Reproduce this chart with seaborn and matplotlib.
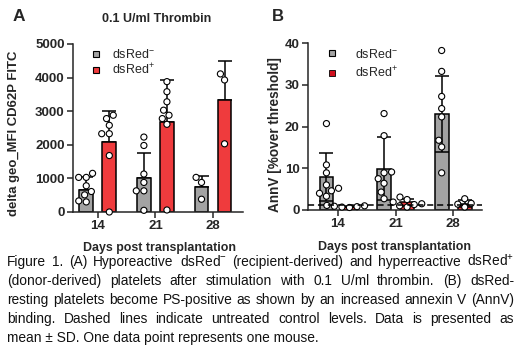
import matplotlib
matplotlib.use("Agg")
import matplotlib.pyplot as plt
import pandas as pd
import seaborn as sns
from matplotlib.lines import Line2D

days = ["14", "21", "28"]
groups = ["dsRed$^{-}$", "dsRed$^{+}$"]

# panel A: delta geo_MFI CD62P FITC (bar = mean, whisker = SD)
a_mean_neg = [650, 1010, 730]
a_sd_neg = [400, 750, 350]
a_mean_pos = [2070, 2680, 3340]
a_sd_pos = [940, 1250, 1160]
a_pts_neg = [[1150, 1030, 1030, 780, 610, 510, 330, 300],
             [2230, 1980, 1130, 880, 630, 630, 50],
             [1030, 880, 380]]
a_pts_pos = [[2880, 2780, 2580, 2330, 2330, 1680, 0],
             [3880, 3580, 3280, 3030, 2880, 2780, 2610, 60],
             [4110, 3930, 2030]]

# panel B: AnnV [% over threshold]
b_mean_neg = [7.9, 9.9, 23.1]
b_sd_neg = [5.8, 7.6, 9.1]
b_mean_pos = [0.8, 1.8, 1.5]
b_sd_pos = [0.2, 0.9, 0.8]
b_pts_neg = [[20.7, 10.8, 8.9, 6.0, 5.2, 4.6, 4.0, 3.3],
             [23.1, 17.8, 9.1, 8.9, 7.5, 6.4, 4.3, 2.7],
             [38.2, 33.2, 27.2, 24.3, 22.3, 16.7, 15.1, 8.9]]
b_pts_pos = [[1.1, 1.0, 0.9, 0.8, 0.7, 0.6],
             [3.1, 2.5, 1.9, 1.5, 1.3, 1.0, 0.7],
             [2.7, 1.6, 1.4, 0.7]]
b_control = 1.1

caption_lines = [
    "Figure 1. (A) Hyporeactive dsRed$^{-}$ (recipient-derived) and hyperreactive dsRed$^{+}$",
    "(donor-derived) platelets after stimulation with 0.1 U/ml thrombin. (B) dsRed-",
    "resting platelets become PS-positive as shown by an increased annexin V (AnnV)",
    "binding. Dashed lines indicate untreated control levels. Data is presented as",
    "mean ± SD. One data point represents one mouse.",
]

GRAY = "#a3a3a3"
RED = "#ef3b3d"
W, H = 520, 357

sns.set_style("ticks")
plt.rcParams["font.family"] = ["Liberation Sans", "DejaVu Sans"]
plt.rcParams["mathtext.fontset"] = "custom"
plt.rcParams["mathtext.rm"] = "Liberation Sans"
plt.rcParams["mathtext.bf"] = "Liberation Sans:bold"
plt.rcParams["mathtext.it"] = "Liberation Sans:italic"
plt.rcParams["axes.linewidth"] = 1.1

fig = plt.figure(figsize=(W / 100, H / 100), dpi=100)
renderer = fig.canvas.get_renderer()


def size_for(s, target_px, weight="normal"):
    # font size that makes string s about target_px wide
    t = fig.text(0, 0, s, fontsize=10, fontweight=weight)
    w = t.get_window_extent(renderer).width
    t.remove()
    return 10 * target_px / w


TICK_FS = size_for("5000", 29.5, "bold")
XLAB_FS = size_for("Days post transplantation", 152, "bold")
LEG_FS = size_for("dsRed", 36)
CAP_FS = size_for(caption_lines[-1], 313)


def bars_df(mneg, sneg, mpos, spos):
    rows = []
    for i, d in enumerate(days):
        rows.append((d, groups[0], mneg[i], sneg[i]))
        rows.append((d, groups[1], mpos[i], spos[i]))
    return pd.DataFrame(rows, columns=["day", "group", "mean", "sd"])


def pts_df(pneg, ppos):
    rows = []
    for i, d in enumerate(days):
        rows += [(d, groups[0], v) for v in pneg[i]]
        rows += [(d, groups[1], v) for v in ppos[i]]
    return pd.DataFrame(rows, columns=["day", "group", "value"])


def panel(ax, bars, pts, ymax, yticks, err_front, xlim):
    sns.barplot(data=bars, x="day", y="mean", hue="group", order=days,
                hue_order=groups, palette=[GRAY, RED], width=0.8, gap=0.4,
                errorbar=None, edgecolor="black", linewidth=1.1, saturation=1,
                legend=False, ax=ax, zorder=2)
    for k, g in enumerate(groups):
        sub = bars[bars["group"] == g]
        xs = [days.index(d) + (-0.2 if k == 0 else 0.2) for d in sub["day"]]
        if err_front:
            yerr = sub["sd"]
        else:
            yerr = [[0] * len(sub), list(sub["sd"])]
        ax.errorbar(xs, sub["mean"], yerr=yerr, fmt="none", ecolor="black",
                    elinewidth=1.1, capsize=5, capthick=1.1,
                    zorder=3 if err_front else 1)
    sns.swarmplot(data=pts, x="day", y="value", hue="group", order=days,
                  hue_order=groups, dodge=True, palette=["white", "white"],
                  size=4.4, edgecolor="black", linewidth=0.8, legend=False,
                  ax=ax, zorder=4)
    for c in ax.collections:
        c.set_clip_on(False)
    ax.set_xlim(*xlim)
    ax.set_ylim(0, ymax)
    ax.set_yticks(yticks)
    sns.despine(ax=ax)
    ax.tick_params(axis="both", width=1.1, length=4, labelsize=TICK_FS, pad=2)
    for lab in ax.get_xticklabels() + ax.get_yticklabels():
        lab.set_fontweight("bold")
    ax.set_xlabel("Days post transplantation", fontsize=XLAB_FS, fontweight="bold")


def square(color, ms=5, mew=0.8):
    return Line2D([], [], ls="none", marker="s", markersize=ms, markerfacecolor=color,
                  markeredgecolor="black", markeredgewidth=mew)


# panel A
axA = fig.add_axes([73 / W, 1 - 212 / H, 170 / W, 168 / H])
panel(axA, bars_df(a_mean_neg, a_sd_neg, a_mean_pos, a_sd_pos),
      pts_df(a_pts_neg, a_pts_pos), 5000, [0, 1000, 2000, 3000, 4000, 5000],
      False, (-0.43, 2.52))
axA.set_ylabel("delta geo_MFI CD62P FITC",
               fontsize=size_for("delta geo_MFI CD62P FITC", 165, "bold"),
               fontweight="bold")
axA.yaxis.set_label_coords(-0.31, 0.47)
axA.xaxis.set_label_coords(0.51, -0.18)
axA.legend([square(GRAY), square(RED)], groups, loc="upper left",
           bbox_to_anchor=(0.03, 1.04), frameon=False, fontsize=LEG_FS,
           handlelength=1, handletextpad=0.8, labelspacing=0.05)

# panel B
axB = fig.add_axes([308 / W, 1 - 210 / H, 174 / W, 167 / H])
panel(axB, bars_df(b_mean_neg, b_sd_neg, b_mean_pos, b_sd_pos),
      pts_df(b_pts_neg, b_pts_pos), 40, [0, 10, 20, 30, 40], True, (-0.52, 2.5))
axB.axhline(b_control, color="black", lw=1.1, ls=(0, (4, 2.5)), zorder=5)
axB.set_ylabel("AnnV [%over threshold]",
               fontsize=size_for("AnnV [%over threshold]", 156, "bold"),
               fontweight="bold")
axB.yaxis.set_label_coords(-0.15, 0.45)
axB.xaxis.set_label_coords(0.5, -0.185)
axB.legend([square(GRAY), square("#d0101e", 4, 0.6)], groups, loc="upper left",
           bbox_to_anchor=(0.04, 1.04), frameon=False, fontsize=LEG_FS,
           handlelength=1, handletextpad=1.3, labelspacing=0.4)

fig.text(13 / W, 1 - 9 / H, "A", fontsize=size_for("A", 12.5, "bold"),
         fontweight="bold", va="top")
fig.text(272 / W, 1 - 9 / H, "B", fontsize=size_for("B", 12, "bold"),
         fontweight="bold", va="top")
fig.text(157 / W, 1 - 19.5 / H, "0.1 U/ml Thrombin",
         fontsize=size_for("0.1 U/ml Thrombin", 109, "bold"),
         fontweight="bold", ha="center", va="center")

# justified caption
left, right = 7, 514
cap_kw = dict(fontsize=CAP_FS, va="baseline", color="#111111")
for i, line in enumerate(caption_lines):
    y = 1 - (266 + 18.9 * i) / H
    if i == len(caption_lines) - 1:
        fig.text(left / W, y, line, **cap_kw)
        continue
    words = line.split(" ")
    widths = []
    for w in words:
        t = fig.text(0, 0, w, **cap_kw)
        widths.append(t.get_window_extent(renderer).width)
        t.remove()
    gap = (right - left - sum(widths)) / (len(words) - 1)
    x = left
    for w, wd in zip(words, widths):
        fig.text(x / W, y, w, **cap_kw)
        x += wd + gap

fig.savefig("out.png", dpi=100)
